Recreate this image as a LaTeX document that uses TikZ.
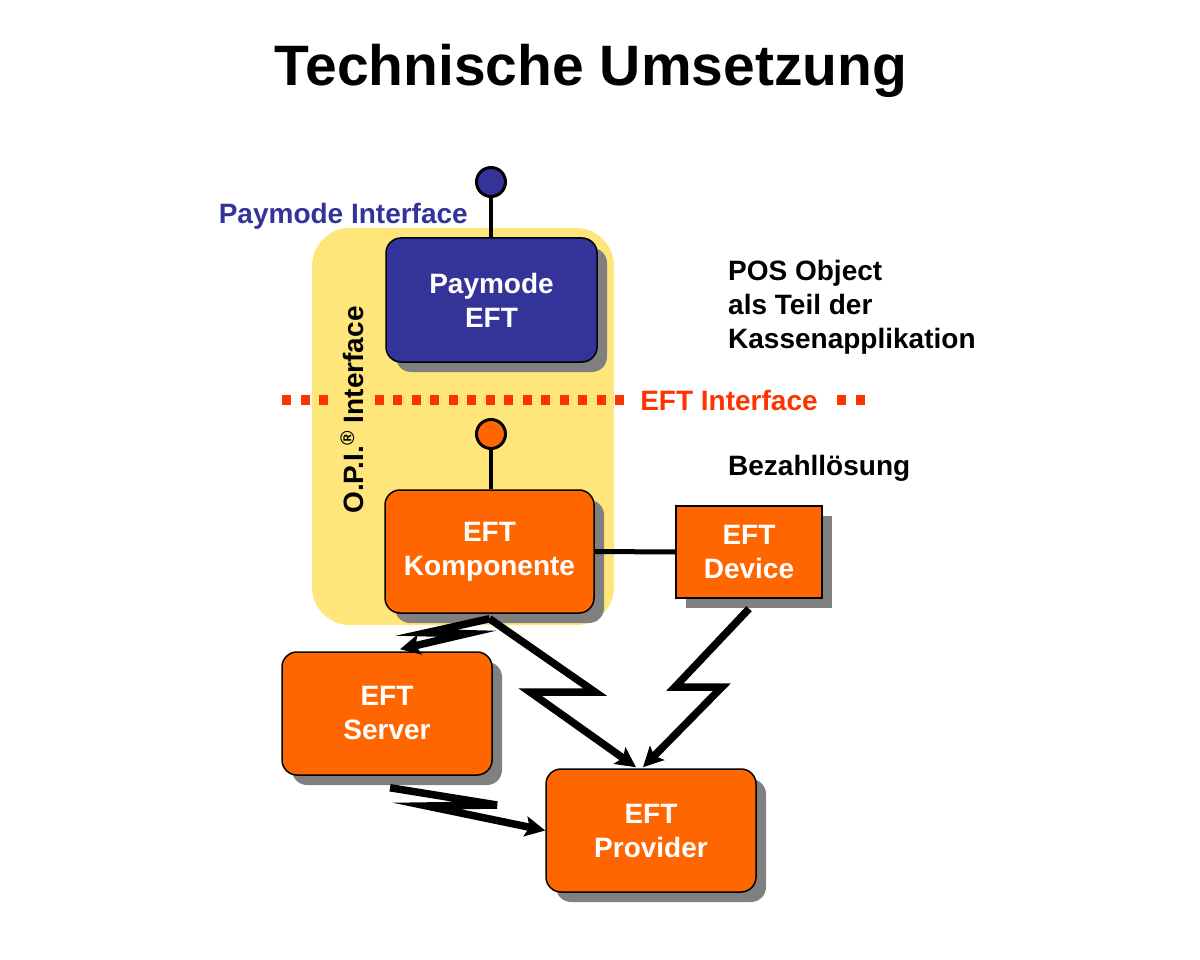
\documentclass[tikz,border=0pt]{standalone}
\usepackage{fontspec}
\setmainfont{Liberation Sans}
\usepackage{xcolor}
\usepackage{tikz}
\usetikzlibrary{arrows.meta,shadows}
\definecolor{pmblue}{RGB}{51,51,153}
\definecolor{eftorange}{RGB}{255,102,0}
\definecolor{opiyellow}{RGB}{255,230,122}
\definecolor{ifred}{RGB}{255,51,0}
\definecolor{shadowgray}{RGB}{128,128,128}
\begin{document}
\begin{tikzpicture}[x=1pt, y=-1pt,
      txt/.style={font=\fontsize{28}{34}\selectfont\bfseries, inner sep=0pt},
      box/.style={draw, line width=1.5pt, rounded corners=15pt,
                  minimum width=210pt, minimum height=123pt,
                  text=white, align=center,
                  font=\fontsize{28}{34}\selectfont\bfseries,
                  drop shadow={shadow xshift=10pt, shadow yshift=-10pt,
                               fill=shadowgray, opacity=1}},
      plug/.style={circle, draw, line width=3pt, minimum size=29pt, inner sep=0pt},
      stem/.style={line width=4pt},
      bolt/.style={line width=7.5pt, -{Stealth[length=20pt, width=20pt, inset=4pt]}}
  ]
    \useasboundingbox (0,0) rectangle (1200,960);
    \node[font=\fontsize{57}{68}\selectfont\bfseries, anchor=base] (title) at (591,86) {Technische Umsetzung};
    % O.P.I. area
    \node[fill=opiyellow, rounded corners=38pt, minimum width=302pt, minimum height=397pt] (opi) at (463,426.5) {};
    % EFT interface line
    \coordinate (ifl) at (282,400);
    \coordinate (ifr) at (870,400);
    \draw[ifred, line width=10pt, dash pattern=on 9pt off 9.5pt] (ifl) -- (ifr);
    \node[txt, rotate=90, fill=opiyellow, inner sep=3pt] (opil) at (352,410) {O.P.I.\textsuperscript{®} Interface};
    \node[txt, fill=white, inner xsep=12pt, inner ysep=6pt, text=ifred] (efti) at (729,400) {EFT Interface};
    % boxes
    \node[box, fill=pmblue, minimum width=211pt, minimum height=124pt] (pay) at (491.5,300) {Paymode\\ EFT};
    \node[box, fill=eftorange, minimum width=209pt] (komp) at (489.5,551.5) {EFT\\ Komponente};
    \node[box, fill=eftorange, rounded corners=0pt, minimum width=146pt, minimum height=92pt] (dev) at (749,552) {EFT\\ Device};
    \node[box, fill=eftorange] (srv) at (387,713.5) {EFT\\ Server};
    \node[box, fill=eftorange] (prov) at (651,830.5) {EFT\\ Provider};
    % plugs
    \node[plug, fill=pmblue] (pplug) at (491,182) {};
    \node[plug, fill=eftorange] (eplug) at (491,434) {};
    \draw[stem] (pplug) -- (pay.north -| pplug);
    \draw[stem] (eplug) -- (komp.north -| eplug);
    \draw[stem, line width=5pt] (komp.east) -- (dev.west);
    % labels
    \node[txt, text=pmblue, anchor=east] (payif) at (468,216) {Paymode Interface};
    \node[txt, anchor=west, align=left] (pos) at (728,307) {POS Object\\ als Teil der\\ Kassenapplikation};
    \node[txt, anchor=west] (bez) at (728,468) {Bezahllösung};
    % bolts
    \draw[bolt] ([yshift=-5pt]komp.south) -- ++(-63,14) -- ++(40,1) -- ([xshift=13pt,yshift=2pt]srv.north);
    \draw[bolt] ([yshift=-5pt]komp.south) -- (595,692) -- (530,692) -- ([xshift=-15pt,yshift=1pt]prov.north);
    \draw[bolt] ([yshift=-10pt]dev.south) -- (675,687) -- (722,687) -- ([xshift=-8pt,yshift=1pt]prov.north);
    \draw[bolt] ([xshift=3pt,yshift=-12pt]srv.south) -- (497,805) -- (427,806) -- (prov.west);
  \end{tikzpicture}
\end{document}
